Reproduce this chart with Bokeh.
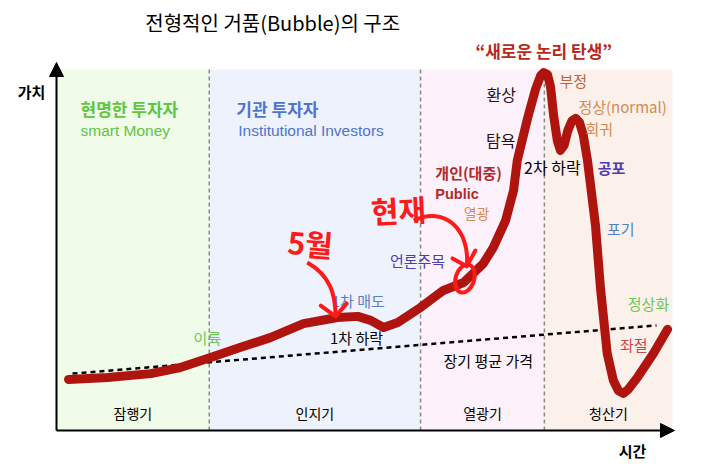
from bokeh.plotting import figure
from bokeh.models import Range1d, Arrow, NormalHead
from bokeh.core.properties import value
from bokeh.embed import file_html
from bokeh.resources import INLINE

# ---- data (time 0..100, value 0..100) ----
time = [1.95, 8.3, 15.3, 20.1, 25.0, 29.9, 34.7, 40.1, 45.6, 48.9, 51.0, 53.1, 55.4, 59.1,
        62.8, 66.1, 69.3, 70.9, 72.9, 74.2, 74.8, 76.5, 77.8, 78.6, 79.1, 79.7, 80.2, 80.7,
        81.3, 81.8, 82.4, 83.0, 83.7, 84.3, 84.9, 85.5, 86.2, 86.9, 87.5, 88.3, 89.4, 90.4,
        91.2, 92.0, 92.8, 94.3, 96.9, 99.2]
price = [14.2, 14.7, 15.8, 17.5, 20.3, 23.1, 25.8, 29.7, 31.4, 31.7, 30.6, 28.6, 30.0, 34.2,
         38.9, 41.1, 46.4, 50.8, 58.3, 66.7, 75.0, 86.9, 95.0, 98.6, 99.4, 98.9, 95.5, 87.5,
         80.6, 77.8, 79.2, 83.3, 86.1, 86.7, 85.6, 82.2, 75.0, 65.3, 56.9, 39.7, 21.4, 13.9,
         11.1, 10.3, 11.4, 14.7, 21.4, 28.1]
avg_time = [2.6, 97.4]
avg_price = [15.8, 29.2]
phase_edges = [0, 24.8, 59.1, 79.2, 100]
phase_names = ["잠행기", "인지기", "열광기", "청산기"]

FONT = value("Noto Sans CJK KR")
LATIN = value("Liberation Sans")

p = figure(width=720, height=470, output_backend="svg", toolbar_location=None,
           x_range=Range1d(-56 / 6.16, 664 / 6.16), y_range=Range1d(-40 / 3.6, 430 / 3.6),
           min_border=0, x_axis_location=None, y_axis_location=None)
p.outline_line_color = None
p.grid.visible = False
p.background_fill_color = "white"
p.border_fill_color = "white"

# phase backgrounds
bg_colors = ["#f0fbe9", "#eef2fc", "#fdf1fb", "#fcf0eb"]
p.quad(left=phase_edges[:-1], right=phase_edges[1:], bottom=[0] * 4, top=[100.3] * 4,
       fill_color=bg_colors, line_color=None)

# dashed phase separators
for xe in phase_edges[1:-1]:
    p.line([xe, xe], [0, 100.3], line_color="#8a8a8a", line_width=1.5, line_dash="4 3")

# long-term average
p.line(avg_time, avg_price, line_color="black", line_width=2.5, line_dash="5 4")

# bubble curve
p.line(time, price, line_color="#b0140e", line_width=9, line_join="round", line_cap="round")

# axes
p.add_layout(Arrow(end=NormalHead(size=14, fill_color="black", line_color="black"),
                   x_start=0, y_start=0, x_end=0, y_end=(430 - 62) / 3.6,
                   line_color="black", line_width=2))
p.add_layout(Arrow(end=NormalHead(size=14, fill_color="black", line_color="black"),
                   x_start=0, y_start=0, x_end=(674 - 56) / 6.16, y_end=0,
                   line_color="black", line_width=2))

def label(txt, x, y, color="black", size=15, bold=False, align="center", font=FONT, angle=0):
    p.text(x=[x], y=[y], text=[txt], text_color=color, text_font_size=f"{size}px",
           text_font=font, text_font_style="bold" if bold else "normal",
           text_align=align, text_baseline="middle", angle=angle)

# phase names
for name, a, b in zip(phase_names, phase_edges[:-1], phase_edges[1:]):
    label(name, (a + b) / 2, 5.0, size=14)

label("전형적인 거품(Bubble)의 구조", 35.1, 113.3, size=20)
label("“새로운 논리 탄생”", 79.1, 105.6, color="#b8281c", size=17, bold=True)
label("가치", -4.06, 94.2, size=15, bold=True)
label("시간", 93.5, -5.6, size=15, bold=True)

GREEN = "#5ec63f"
BLUE = "#4f74d0"
label("현명한 투자자", 3.9, 89.4, color=GREEN, size=17, bold=True, align="left")
label("smart Money", 3.9, 83.3, color=GREEN, size=15.5, align="left", font=LATIN)
label("기관 투자자", 29.2, 89.4, color=BLUE, size=17, bold=True, align="left")
label("Institutional Investors", 29.5, 83.3, color=BLUE, size=15.5, align="left", font=LATIN)

label("환상", 72.2, 93.6, color="#2a1010", size=16)
label("탐욕", 72.1, 80.6, color="#2a1010", size=16)
label("개인(대중)", 66.9, 71.7, color="#b22a2a", size=15, bold=True)
label("Public", 61.5, 65.8, color="#b22a2a", size=14.5, bold=True, align="left", font=LATIN)
label("열광", 68.2, 60.3, color="#d9894f", size=14)
label("2차 하락", 80.5, 73.3, size=16)
label("공포", 90.1, 73.1, color="#4b3db0", size=15, bold=True)
label("부정", 83.9, 97.2, color="#c0603c", size=15)
label("정상(normal)", 91.9, 90.0, color="#d48a50", size=15)
label("회귀", 88.1, 83.9, color="#d48a50", size=15)
label("포기", 91.6, 56.1, color="#4f80c8", size=15)
label("정상화", 96.1, 35.2, color="#6cc850", size=15)
label("좌절", 93.7, 23.9, color="#c84848", size=15)
label("언론주목", 58.6, 47.2, color="#4b3db0", size=15)
label("1차 매도", 49.0, 36.1, color="#5c80c8", size=15)
label("1차 하락", 48.7, 25.8, size=15)
label("이륙", 24.5, 25.8, color="#6cc850", size=15)
label("장기 평균 가격", 70.1, 19.4, size=15)

# hand-drawn red annotations
RED = "#ff1a1a"
label("5월", 41.2, 52.2, color=RED, size=30, bold=True, angle=-0.08)
label("현재", 55.5, 61.4, color=RED, size=30, bold=True, angle=0.05)
p.bezier(x0=[40.7], y0=[46.7], x1=[45.3], y1=[31.7], cx0=[44.5], cy0=[43.1],
         cx1=[45.3], cy1=[37.5], line_color=RED, line_width=4)
p.multi_line(xs=[[42.9, 45.3, 47.1]], ys=[[34.7, 31.7, 35.3]], line_color=RED, line_width=4,
             line_join="round", line_cap="round")
p.bezier(x0=[58.0], y0=[58.3], x1=[66.6], y1=[45.6], cx0=[63.1], cy0=[62.5],
         cx1=[67.2], cy1=[55.6], line_color=RED, line_width=4)
p.multi_line(xs=[[64.3, 66.6, 68.0]], ys=[[47.8, 45.6, 50.0]], line_color=RED, line_width=4,
             line_join="round", line_cap="round")
p.ellipse(x=[66.3], y=[42.2], width=3.0, height=8.0, angle=-0.3, fill_color=None,
          line_color=RED, line_width=4)

open("out.html", "w").write(file_html(p, INLINE))
